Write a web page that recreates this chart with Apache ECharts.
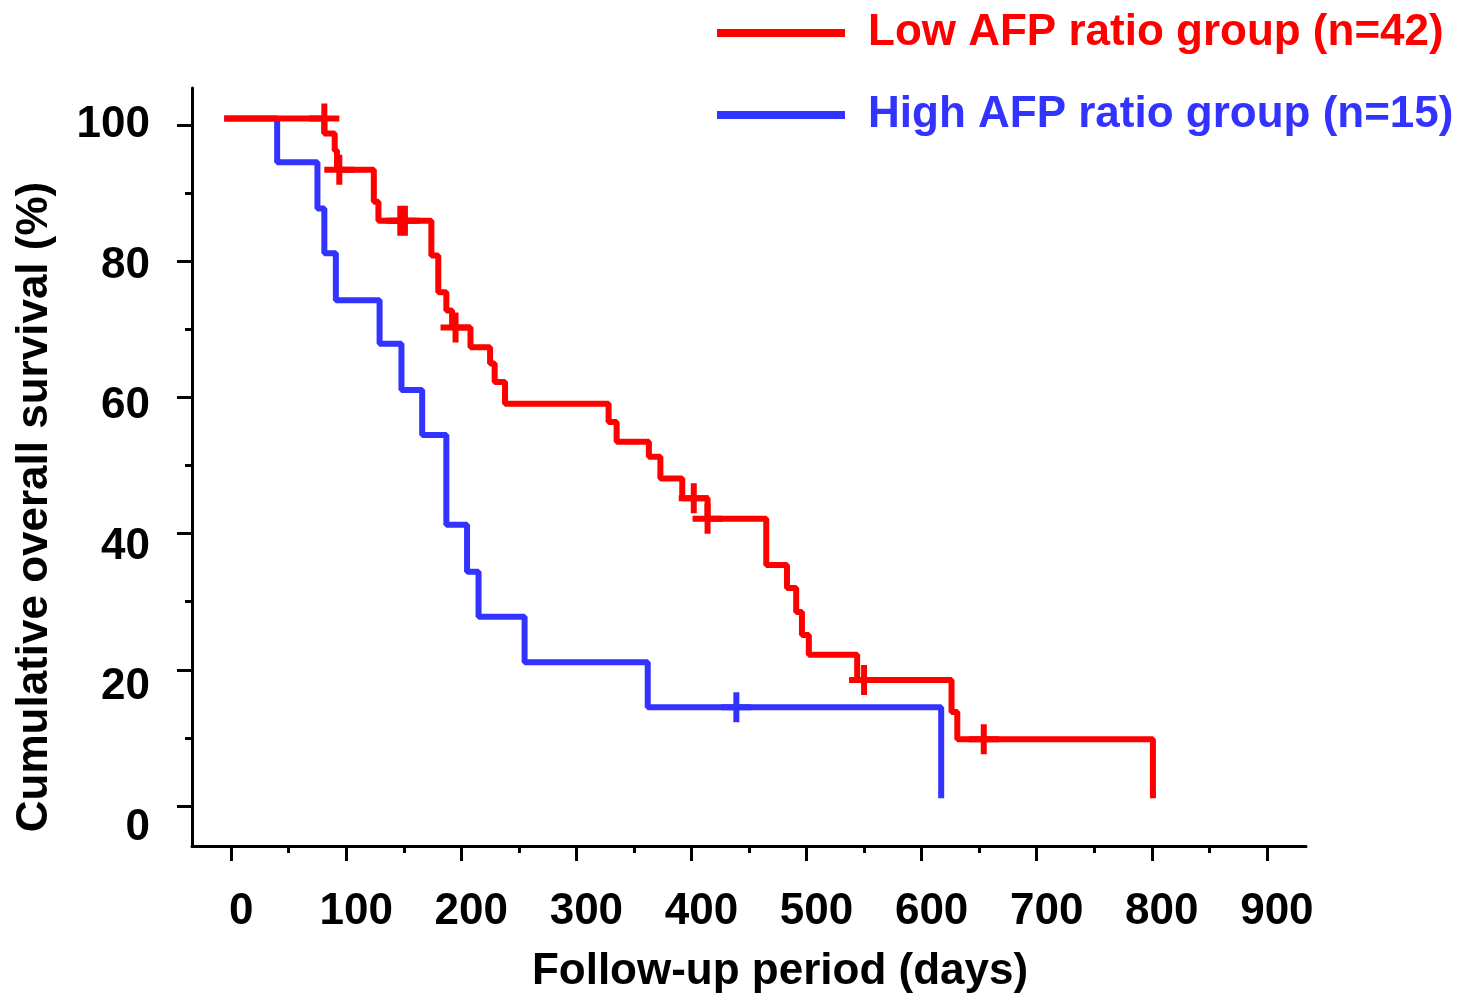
<!DOCTYPE html>
<html>
<head>
<meta charset="utf-8">
<script src="https://cdn.jsdelivr.net/npm/echarts@6/dist/echarts.min.js"></script>
<style>
html, body { margin: 0; padding: 0; background: #fff; }
#chart { width: 1472px; height: 995px; }
</style>
</head>
<body>
<div id="chart"></div>
<script>
// Kaplan-Meier curves, values (time in days, survival in %)
var lowTimes = [-6, 81, 90, 92, 124, 128, 174, 180, 187, 192, 208, 225, 229, 238, 328, 335, 363, 373, 392, 414, 465, 483, 491, 496, 502, 544, 626, 631, 801];
var lowSurv  = [101.0, 98.8, 96.3, 93.5, 88.8, 86.0, 80.9, 75.5, 72.8, 70.3, 67.4, 65.0, 62.3, 59.1, 56.4, 53.5, 51.3, 48.1, 45.2, 42.2, 35.4, 32.0, 28.5, 25.1, 22.2, 18.5, 13.8, 9.8, 1.1];
var lowCensorTimes = [81, 94, 147, 151, 195, 402, 414, 550, 654];
var lowCensorSurv  = [101.0, 93.5, 86.0, 86.0, 70.3, 45.2, 42.2, 18.5, 9.8];

var highTimes = [-6, 40, 75, 81, 91, 129, 148, 166, 187, 205, 215, 255, 362, 617];
var highSurv  = [101.0, 94.6, 87.8, 81.2, 74.3, 67.9, 61.1, 54.5, 41.3, 34.4, 27.8, 21.1, 14.5, 1.1];
var highCensorTimes = [439];
var highCensorSurv  = [14.5];

var xMajorTicks = [0, 100, 200, 300, 400, 500, 600, 700, 800, 900];
var xMinorTicks = [50, 150, 250, 350, 450, 550, 650, 750, 850];
var yMajorTicks = [0, 20, 40, 60, 80, 100];
var yMinorTicks = [10, 30, 50, 70, 90];

var lowName = 'Low AFP ratio group (n=42)';
var highName = 'High AFP ratio group (n=15)';
var RED = '#ff0000';
var BLUE = '#3333ff';
var FONT = 'Liberation Sans';

function pairs(xs, ys) {
    return xs.map(function(x, i){ return [x, ys[i]]; });
}

var plusPath = 'path://M4,0 L6,0 L6,4 L10,4 L10,6 L6,6 L6,10 L4,10 L4,6 L0,6 L0,4 L4,4 Z';

var axisLine = { show: true, onZero: false, lineStyle: { color: '#000', width: 3 } };
var noLine = { show: false, onZero: false };

var option = {
    animation: false,
    backgroundColor: '#fff',
    grid: { left: 192, right: 166, top: 88, bottom: 149, outerBoundsMode: 'none' },
    legend: {
        orient: 'vertical',
        left: 712,
        top: 3,
        itemWidth: 128,
        itemHeight: 8,
        itemGap: 32,
        icon: 'rect',
        textStyle: { fontFamily: FONT, fontWeight: 'bold', fontSize: 44, lineHeight: 50, padding: [0, 0, 0, 18] },
        data: [
            { name: lowName, textStyle: { color: RED } },
            { name: highName, textStyle: { color: BLUE } }
        ]
    },
    xAxis: [{
        type: 'value',
        min: -34, max: 934,
        axisLine: axisLine,
        splitLine: { show: false },
        axisTick: { show: true, inside: false, length: 15, lineStyle: { color: '#000', width: 3 }, customValues: xMajorTicks },
        axisLabel: {
            customValues: xMajorTicks, margin: 44, padding: [0, 0, 0, 20],
            color: '#000', fontFamily: FONT, fontWeight: 'bold', fontSize: 44
        },
        name: 'Follow-up period (days)',
        nameLocation: 'middle',
        nameGap: 104,
        nameTextStyle: { color: '#000', fontFamily: FONT, fontWeight: 'bold', fontSize: 44, padding: [0, 0, 0, 62] }
    }, {
        type: 'value',
        min: -34, max: 934,
        position: 'bottom',
        axisLine: noLine,
        splitLine: { show: false },
        axisTick: { show: true, length: 7, lineStyle: { color: '#000', width: 3 }, customValues: xMinorTicks },
        axisLabel: { show: false }
    }],
    yAxis: [{
        type: 'value',
        min: -5.9, max: 105.5,
        axisLine: axisLine,
        splitLine: { show: false },
        axisTick: { show: true, length: 15, lineStyle: { color: '#000', width: 3 }, customValues: yMajorTicks },
        axisLabel: { show: false },
        name: 'Cumulative overall survival (%)',
        nameLocation: 'middle',
        nameGap: 135,
        nameTextStyle: { color: '#000', fontFamily: FONT, fontWeight: 'bold', fontSize: 44, padding: [0, 80, 0, 0] }
    }, {
        type: 'value',
        min: -5.9, max: 105.5,
        position: 'left',
        axisLine: noLine,
        splitLine: { show: false },
        axisTick: { show: true, length: 7, lineStyle: { color: '#000', width: 3 }, customValues: yMinorTicks },
        axisLabel: { show: false }
    }, {
        // label-only axis: the figure's labels drift slightly below their ticks
        type: 'value',
        min: -2.6, max: 105.3,
        position: 'left',
        axisLine: noLine,
        axisTick: { show: false },
        splitLine: { show: false },
        axisLabel: {
            customValues: yMajorTicks, margin: 42,
            color: '#000', fontFamily: FONT, fontWeight: 'bold', fontSize: 44
        }
    }],
    series: [{
        name: highName,
        type: 'line',
        step: 'end',
        showSymbol: false,
        silent: true,
        itemStyle: { color: BLUE },
        lineStyle: { color: BLUE, width: 6 },
        data: pairs(highTimes, highSurv),
        z: 2
    }, {
        name: highName + ' censored',
        type: 'scatter',
        symbol: plusPath,
        symbolSize: 30,
        silent: true,
        itemStyle: { color: BLUE, opacity: 1 },
        data: pairs(highCensorTimes, highCensorSurv),
        z: 3
    }, {
        name: lowName,
        type: 'line',
        step: 'end',
        showSymbol: false,
        silent: true,
        itemStyle: { color: RED },
        lineStyle: { color: RED, width: 6 },
        data: pairs(lowTimes, lowSurv),
        z: 4
    }, {
        name: lowName + ' censored',
        type: 'scatter',
        symbol: plusPath,
        symbolSize: 30,
        silent: true,
        itemStyle: { color: RED, opacity: 1 },
        data: pairs(lowCensorTimes, lowCensorSurv),
        z: 5
    }]
};

var myChart = echarts.init(document.getElementById('chart'));
myChart.setOption(option);
</script>
</body>
</html>
